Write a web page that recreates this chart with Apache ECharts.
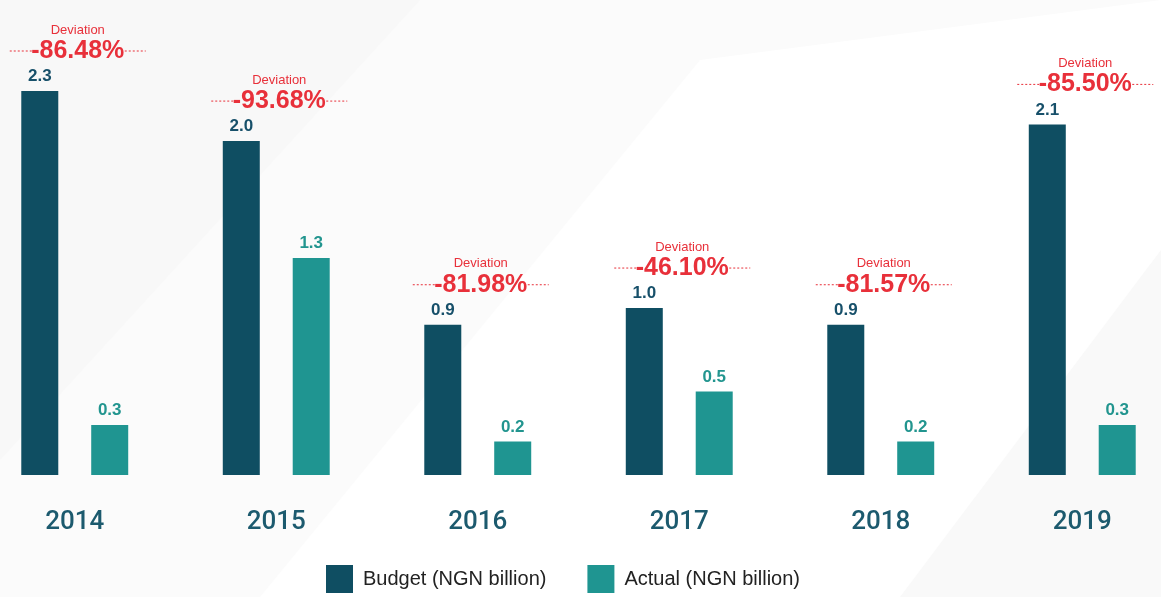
<!DOCTYPE html>
<html lang="en">

<head>
    <meta charset="UTF-8">
    <title>Budget vs Actual</title>
    <script src="https://cdn.jsdelivr.net/npm/echarts@6.0.0/dist/echarts.min.js"></script>
    <style>
        html, body { margin: 0; padding: 0; background: #ffffff; }
    </style>
</head>

<body>
    <div id="myChart" style="width: 1161px; height: 597px;"></div>
    <script>
        // data
        const years = ['2014', '2015', '2016', '2017', '2018', '2019'];
        const budget = [2.3, 2.0, 0.9, 1.0, 0.9, 2.1];
        const actual = [0.3, 1.3, 0.2, 0.5, 0.2, 0.3];
        const deviation = ['-86.48%', '-93.68%', '-81.98%', '-46.10%', '-81.57%', '-85.50%'];

        const font = '"Liberation Sans", Arial, sans-serif';
        const red = '#e8303a';

        const myChart = echarts.init(document.getElementById('myChart'));

        const devData = years.map((y, i) => [i, budget[i], deviation[i]]);

        const option = {
            backgroundColor: '#fbfbfb',
            animation: false,
            textStyle: { fontFamily: font },
            graphic: [
                { type: 'polygon', z: -10, shape: { points: [[0, 0], [420, 0], [0, 460]] }, style: { fill: '#f8f8f8' } },
                { type: 'polygon', z: -10, shape: { points: [[260, 597], [700, 60], [1161, 0], [1161, 597]] }, style: { fill: '#ffffff' } },
                { type: 'polygon', z: -10, shape: { points: [[900, 597], [1161, 250], [1161, 597]] }, style: { fill: '#f9f9f9' } }
            ],
            grid: {
                left: -26,
                width: 1209,
                top: 91,
                bottom: 122,
                outerBoundsMode: 'none',
                containLabel: false
            },
            legend: {
                data: ['Budget (NGN billion)', 'Actual (NGN billion)'],
                left: 321,
                top: 560,
                icon: 'rect',
                itemWidth: 27,
                itemHeight: 28,
                itemGap: 41,
                textStyle: { fontSize: 20, color: '#222222', fontFamily: font, padding: [0, 0, 0, 5] }
            },
            xAxis: {
                type: 'category',
                data: years,
                axisLine: { show: false },
                axisTick: { show: false },
                axisLabel: {
                    margin: 34,
                    fontSize: 26,
                    fontWeight: 500,
                    color: '#1c5a6e',
                    fontFamily: 'Roboto, "Liberation Sans", sans-serif'
                }
            },
            yAxis: {
                type: 'value',
                min: 0,
                max: 2.3,
                show: false,
                splitLine: { show: false }
            },
            series: [
                {
                    name: 'Budget (NGN billion)',
                    type: 'bar',
                    data: budget,
                    barWidth: 37,
                    barGap: '89%',
                    itemStyle: { color: '#0f4e62' },
                    label: {
                        show: true,
                        position: 'top',
                        distance: 6,
                        fontSize: 17,
                        fontWeight: 'bold',
                        color: '#17506a',
                        formatter: (p) => p.value.toFixed(1)
                    }
                },
                {
                    name: 'Actual (NGN billion)',
                    type: 'bar',
                    data: actual,
                    barWidth: 37,
                    itemStyle: { color: '#1f9591' },
                    label: {
                        show: true,
                        position: 'top',
                        distance: 6,
                        fontSize: 17,
                        fontWeight: 'bold',
                        color: '#22958f',
                        formatter: (p) => p.value.toFixed(1)
                    }
                },
                {
                    name: 'Deviation',
                    type: 'custom',
                    data: devData,
                    clip: false,
                    z: 5,
                    renderItem: function (params, api) {
                        const pt = api.coord([api.value(0), api.value(1)]);
                        const cx = pt[0] + 3;
                        const cy = pt[1] - 40;
                        const txt = devData[params.dataIndex][2];
                        const dotted = { stroke: red, lineWidth: 1, lineDash: [2, 2] };
                        return {
                            type: 'group',
                            children: [
                                {
                                    type: 'text',
                                    style: {
                                        x: cx, y: cy - 21, text: 'Deviation',
                                        fontSize: 13, fill: red, fontFamily: font,
                                        align: 'center', verticalAlign: 'middle'
                                    }
                                },
                                {
                                    type: 'text',
                                    style: {
                                        x: cx, y: cy, text: txt,
                                        fontSize: 25, fontWeight: 'bold', fill: red, fontFamily: font,
                                        align: 'center', verticalAlign: 'middle'
                                    }
                                },
                                { type: 'line', shape: { x1: cx - 68, y1: cy, x2: cx - 46, y2: cy }, style: dotted },
                                { type: 'line', shape: { x1: cx + 47, y1: cy, x2: cx + 68, y2: cy }, style: dotted }
                            ]
                        };
                    }
                }
            ]
        };
        myChart.setOption(option);
    </script>
</body>

</html>
